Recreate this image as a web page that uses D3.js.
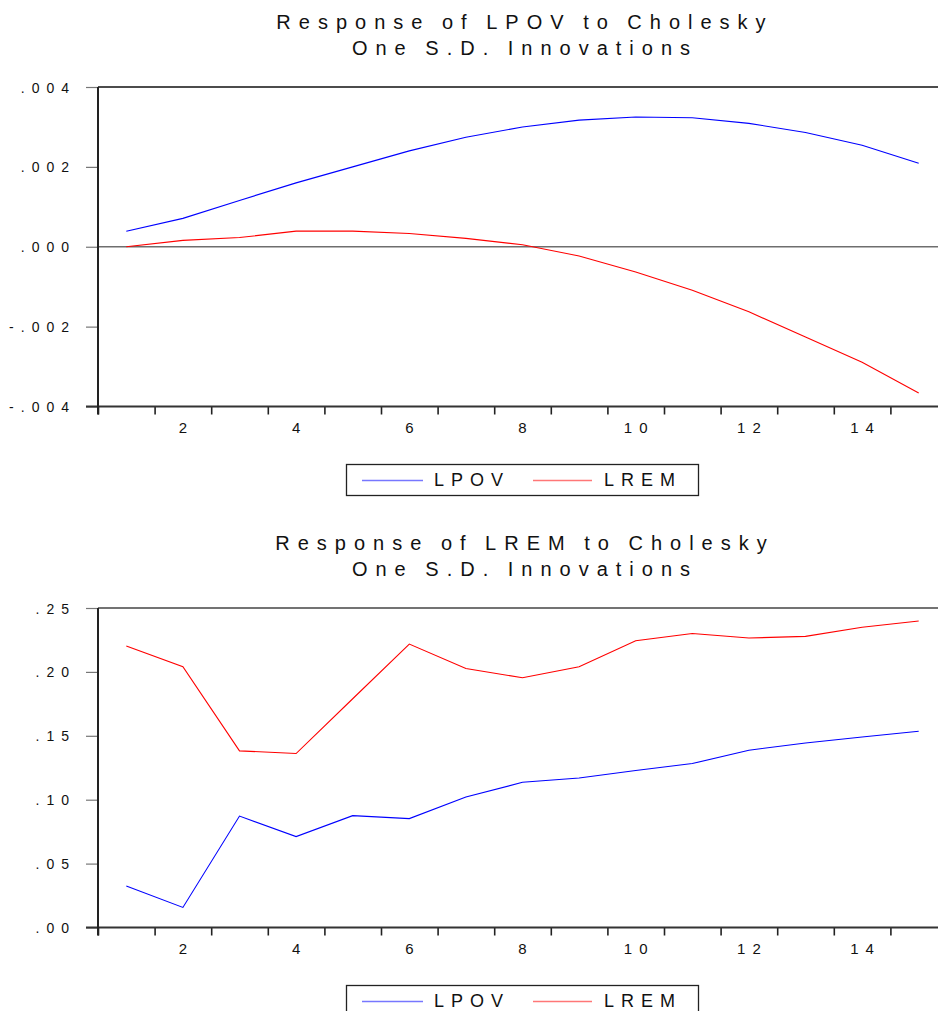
<!DOCTYPE html>
<meta charset="utf-8">
<head>
	<title>Response to Cholesky One S.D. Innovations</title>
</head>

<style>

body {
	margin: 0;
	background: #fff;
}

svg {
	display: block;
	overflow: hidden;
	font-family: "Liberation Sans", Arial, sans-serif;
}

.line {
	fill: none;
	stroke-width: 1.1;
}

</style>

<body>

<svg id="chart" width="938" height="1011"></svg>

<script src="https://cdnjs.cloudflare.com/ajax/libs/d3/7.8.5/d3.min.js"></script>
<script>

// data
var periods = [1, 2, 3, 4, 5, 6, 7, 8, 9, 10, 11, 12, 13, 14, 15];
var xLabels = [2, 4, 6, 8, 10, 12, 14];
var seriesNames = ['LPOV', 'LREM'];
var seriesColors = ['#0000ff', '#ff0000'];
var legendColors = ['#7777ff', '#ff7777'];

// Response of LPOV
var lpovToLpov = [0.00039, 0.00071, 0.00116, 0.00160, 0.00200, 0.00240, 0.00274, 0.00300, 0.00317, 0.00325, 0.00323, 0.00309, 0.00286, 0.00254, 0.00209];
var lpovToLrem = [0.00000, 0.00016, 0.00023, 0.00039, 0.00039, 0.00033, 0.00021, 0.00005, -0.00023, -0.00063, -0.00109, -0.00163, -0.00226, -0.00289, -0.00366];
var topTicks = [0.004, 0.002, 0.000, -0.002, -0.004];
var topTickLabels = ['.004', '.002', '.000', '-.002', '-.004'];

// Response of LREM
var lremToLpov = [0.0324, 0.0157, 0.0872, 0.0711, 0.0875, 0.0852, 0.1021, 0.1136, 0.1170, 0.1228, 0.1283, 0.1387, 0.1444, 0.1491, 0.1536];
var lremToLrem = [0.2202, 0.2040, 0.1382, 0.1361, 0.1790, 0.2218, 0.2027, 0.1954, 0.2040, 0.2244, 0.2301, 0.2265, 0.2278, 0.2349, 0.2398];
var bottomTicks = [0.25, 0.20, 0.15, 0.10, 0.05, 0.00];
var bottomTickLabels = ['.25', '.20', '.15', '.10', '.05', '.00'];

var svg = d3.select('#chart');

var left = 98, right = 947;
var x = d3.scaleLinear()
	.domain([0.5, 15.5])
	.range([left, right]);

function drawPanel(opt) {
	var top = opt.top, bottom = opt.top + 319.5;
	var y = d3.scaleLinear()
		.domain(opt.domain)
		.range([bottom, top]);
	var g = svg.append('g');
	var cx = 521;

	// title
	g.selectAll('.title')
		.data(opt.title)
		.enter()
		.append('text')
		.attr('x', cx + 4)
		.attr('y', function(d, i) { return top - 58 + i * 26; })
		.attr('text-anchor', 'middle')
		.style('font-size', '20px')
		.style('letter-spacing', '8px')
		.style('word-spacing', '-2px')
		.style('fill', '#111')
		.text(function(d) { return d; });

	// top border
	g.append('line')
		.attr('x1', left).attr('x2', 938)
		.attr('y1', top).attr('y2', top)
		.style('stroke', opt.borderColor)
		.style('stroke-width', opt.borderWidth);

	// zero line
	if (opt.zero) {
		g.append('line')
			.attr('x1', left).attr('x2', 938)
			.attr('y1', y(0)).attr('y2', y(0))
			.style('stroke', '#6e6e6e')
			.style('stroke-width', 1.5);
	}

	// y axis
	var yAxis = d3.axisLeft(y)
		.tickValues(opt.ticks)
		.tickSize(12)
		.tickFormat(function(d, i) { return opt.tickLabels[i]; });
	var ya = g.append('g')
		.attr('transform', 'translate(' + left + ',0)')
		.call(yAxis);
	ya.select('.domain').remove();
	ya.selectAll('.tick line').style('stroke', '#777').style('stroke-width', 1.2);
	ya.selectAll('.tick text')
		.attr('x', -22)
		.attr('dy', '0.36em')
		.style('font-size', '14px')
		.style('letter-spacing', '7px')
		.style('fill', '#111')
		.style('font-family', '"Liberation Sans", Arial, sans-serif');

	// x axis ticks between observations
	var xAxis = d3.axisBottom(x)
		.tickValues(periods.map(function(p) { return p - 0.5; }))
		.tickSize(8)
		.tickFormat('');
	var xa = g.append('g')
		.attr('transform', 'translate(0,' + bottom + ')')
		.call(xAxis);
	xa.select('.domain').remove();
	xa.selectAll('.tick line').style('stroke', '#222').style('stroke-width', 1.6);

	// x labels
	g.selectAll('.xlabel')
		.data(xLabels)
		.enter()
		.append('text')
		.attr('x', function(d) { return x(d) + 3.5; })
		.attr('y', bottom + 26)
		.attr('text-anchor', 'middle')
		.style('font-size', '15px')
		.style('letter-spacing', '7px')
		.style('fill', '#111')
		.text(function(d) { return d; });

	// axis lines
	g.append('line')
		.attr('x1', 86).attr('x2', 938)
		.attr('y1', bottom).attr('y2', bottom)
		.style('stroke', '#333')
		.style('stroke-width', 2);
	g.append('line')
		.attr('x1', left).attr('x2', left)
		.attr('y1', top).attr('y2', bottom + 8)
		.style('stroke', '#222')
		.style('stroke-width', 2);

	// series
	var line = d3.line()
		.x(function(d, i) { return x(periods[i]); })
		.y(function(d) { return y(d); });

	g.selectAll('.line')
		.data(opt.series)
		.enter()
		.append('path')
		.classed('line', true)
		.attr('d', line)
		.style('stroke', function(d, i) { return seriesColors[i]; });

	// legend
	var ly = bottom + 58;
	g.append('rect')
		.attr('x', 346.5).attr('y', ly)
		.attr('width', 352).attr('height', 31)
		.style('fill', '#fff')
		.style('stroke', '#222')
		.style('stroke-width', 1.3);

	var legendX = [[362, 423, 434], [533, 592, 604]];
	var item = g.selectAll('.legend')
		.data(seriesNames)
		.enter()
		.append('g');
	item.append('line')
		.attr('x1', function(d, i) { return legendX[i][0]; })
		.attr('x2', function(d, i) { return legendX[i][1]; })
		.attr('y1', ly + 16).attr('y2', ly + 16)
		.style('stroke', function(d, i) { return legendColors[i]; })
		.style('stroke-width', 1.4);
	item.append('text')
		.attr('x', function(d, i) { return legendX[i][2]; })
		.attr('y', ly + 21)
		.style('font-size', '18px')
		.style('letter-spacing', '7px')
		.style('fill', '#111')
		.text(function(d) { return d; });
}

drawPanel({
	top: 87,
	domain: [-0.004, 0.004],
	ticks: topTicks,
	tickLabels: topTickLabels,
	zero: true,
	borderColor: '#111',
	borderWidth: 1.3,
	title: ['Response of LPOV to Cholesky', 'One S.D. Innovations'],
	series: [lpovToLpov, lpovToLrem]
});

drawPanel({
	top: 608,
	domain: [0, 0.25],
	ticks: bottomTicks,
	tickLabels: bottomTickLabels,
	zero: false,
	borderColor: '#444',
	borderWidth: 1.6,
	title: ['Response of LREM to Cholesky', 'One S.D. Innovations'],
	series: [lremToLpov, lremToLrem]
});

</script>

</body>
</html>
